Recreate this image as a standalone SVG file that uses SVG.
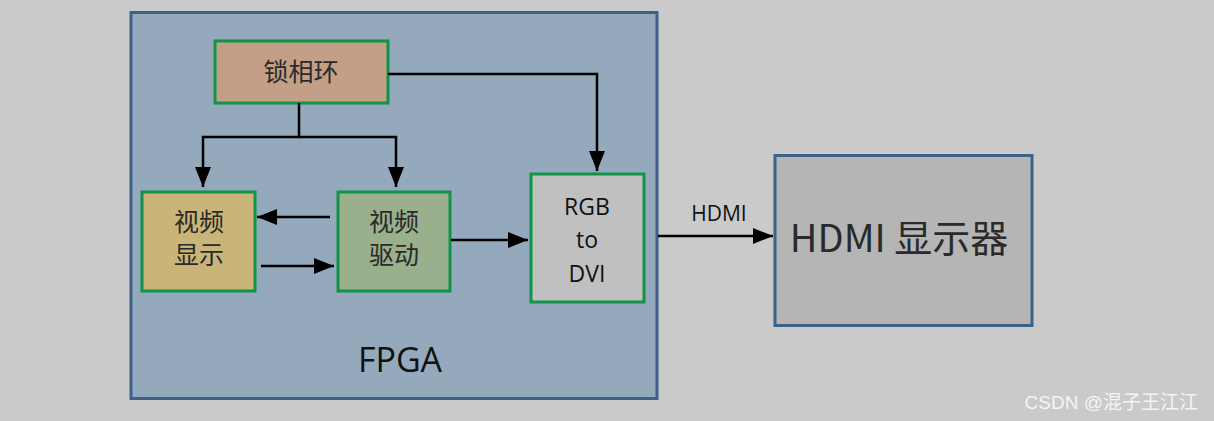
<svg xmlns="http://www.w3.org/2000/svg" width="1214" height="421" viewBox="0 0 1214 421">
<defs>
<style>
.node{stroke:#12934a;stroke-width:3}
.cn{font-family:"Noto Sans CJK SC","Noto Sans",sans-serif;fill:#2a2a2a;text-anchor:middle}
.lat{font-family:"Open Sans","Liberation Sans",sans-serif;fill:#111;text-anchor:middle}
.conn{stroke:#000;stroke-width:2.5;fill:none}
</style>
<marker id="a" viewBox="0 0 20 16" refX="20" refY="8" markerWidth="20" markerHeight="16" markerUnits="userSpaceOnUse" orient="auto">
<path d="M0,0 L20,8 L0,16 Z" fill="#000"/>
</marker>
</defs>
<rect width="1214" height="421" fill="#cacaca"/>
<g id="fpga">
<rect x="131" y="12.5" width="526" height="386" fill="#94a9bb" stroke="#3e6187" stroke-width="3"/>
<text class="lat" x="400" y="372" font-size="34">FPGA</text>
</g>
<g id="pll">
<rect class="node" x="215" y="41" width="173" height="62" fill="#c39f87"/>
<text class="cn" x="301" y="81" font-size="25">锁相环</text>
</g>
<g id="video-display">
<rect class="node" x="142" y="192" width="113" height="99" fill="#c9b577"/>
<text class="cn" x="199" y="231" font-size="25">视频</text>
<text class="cn" x="199" y="264" font-size="25">显示</text>
</g>
<g id="video-drive">
<rect class="node" x="338" y="192" width="112" height="99" fill="#9aaf8c"/>
<text class="cn" x="394" y="231" font-size="25">视频</text>
<text class="cn" x="394" y="264" font-size="25">驱动</text>
</g>
<g id="rgb2dvi">
<rect class="node" x="531" y="174" width="113" height="128" fill="#c0c0c0"/>
<text class="lat" x="587" y="215" font-size="23">RGB</text>
<text class="lat" x="587" y="248" font-size="23">to</text>
<text class="lat" x="587" y="282" font-size="23">DVI</text>
</g>
<g id="hdmi-display">
<rect x="775" y="155.5" width="257" height="170" fill="#b5b5b5" stroke="#3e6187" stroke-width="3"/>
<text class="cn" x="899" y="252" font-size="38" fill="#111">HDMI 显示器</text>
</g>
<g id="connectors">
<path class="conn" d="M299,103 V137 H203 V187" marker-end="url(#a)"/>
<path class="conn" d="M299,137 H396 V187" marker-end="url(#a)"/>
<path class="conn" d="M388,74 H597 V171" marker-end="url(#a)"/>
<path class="conn" d="M330,217 H257" marker-end="url(#a)"/>
<path class="conn" d="M261,266 H334" marker-end="url(#a)"/>
<path class="conn" d="M451,240 H528" marker-end="url(#a)"/>
<path class="conn" d="M658,236 H773" marker-end="url(#a)"/>
<text class="lat" x="719" y="221" font-size="21">HDMI</text>
</g>
<text x="1198" y="409" font-family="'Liberation Sans','Noto Sans CJK SC',sans-serif" font-size="19" fill="#f4f4f4" text-anchor="end">CSDN @混子王江江</text>
</svg>
